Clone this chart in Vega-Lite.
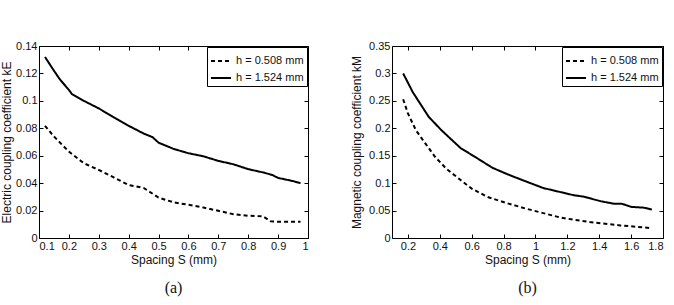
{
  "$schema": "https://vega.github.io/schema/vega-lite/v6.json",
  "padding": {"left": 0, "top": 39, "right": 2, "bottom": 0},
  "background": "white",
  "config": {
    "view": {"stroke": "black", "strokeWidth": 1},
    "font": "Liberation Sans",
    "axis": {
      "grid": false, "domain": false, "tickColor": "black", "tickSize": -4,
      "labelFont": "Liberation Sans", "labelFontSize": 11, "labelColor": "#111",
      "titleFont": "Liberation Sans", "titleFontSize": 12, "titleFontWeight": "normal", "titleColor": "#111"
    }
  },
  "datasets": {
    "a": [
      {"s": 0.12, "k": 0.132, "h": "h = 1.524 mm"},
      {"s": 0.15, "k": 0.122, "h": "h = 1.524 mm"},
      {"s": 0.17, "k": 0.1156, "h": "h = 1.524 mm"},
      {"s": 0.2, "k": 0.108, "h": "h = 1.524 mm"},
      {"s": 0.21, "k": 0.105, "h": "h = 1.524 mm"},
      {"s": 0.25, "k": 0.1, "h": "h = 1.524 mm"},
      {"s": 0.3, "k": 0.0945, "h": "h = 1.524 mm"},
      {"s": 0.35, "k": 0.088, "h": "h = 1.524 mm"},
      {"s": 0.4, "k": 0.0818, "h": "h = 1.524 mm"},
      {"s": 0.45, "k": 0.0762, "h": "h = 1.524 mm"},
      {"s": 0.48, "k": 0.0735, "h": "h = 1.524 mm"},
      {"s": 0.5, "k": 0.0695, "h": "h = 1.524 mm"},
      {"s": 0.55, "k": 0.065, "h": "h = 1.524 mm"},
      {"s": 0.6, "k": 0.0618, "h": "h = 1.524 mm"},
      {"s": 0.65, "k": 0.0596, "h": "h = 1.524 mm"},
      {"s": 0.7, "k": 0.0562, "h": "h = 1.524 mm"},
      {"s": 0.75, "k": 0.0538, "h": "h = 1.524 mm"},
      {"s": 0.8, "k": 0.0502, "h": "h = 1.524 mm"},
      {"s": 0.85, "k": 0.0478, "h": "h = 1.524 mm"},
      {"s": 0.88, "k": 0.046, "h": "h = 1.524 mm"},
      {"s": 0.9, "k": 0.0438, "h": "h = 1.524 mm"},
      {"s": 0.95, "k": 0.0415, "h": "h = 1.524 mm"},
      {"s": 0.975, "k": 0.04, "h": "h = 1.524 mm"},
      {"s": 0.12, "k": 0.0818, "h": "h = 0.508 mm"},
      {"s": 0.15, "k": 0.074, "h": "h = 0.508 mm"},
      {"s": 0.2, "k": 0.063, "h": "h = 0.508 mm"},
      {"s": 0.25, "k": 0.0545, "h": "h = 0.508 mm"},
      {"s": 0.3, "k": 0.0496, "h": "h = 0.508 mm"},
      {"s": 0.35, "k": 0.0442, "h": "h = 0.508 mm"},
      {"s": 0.4, "k": 0.0386, "h": "h = 0.508 mm"},
      {"s": 0.45, "k": 0.0365, "h": "h = 0.508 mm"},
      {"s": 0.5, "k": 0.0295, "h": "h = 0.508 mm"},
      {"s": 0.55, "k": 0.026, "h": "h = 0.508 mm"},
      {"s": 0.6, "k": 0.0242, "h": "h = 0.508 mm"},
      {"s": 0.65, "k": 0.0222, "h": "h = 0.508 mm"},
      {"s": 0.7, "k": 0.0198, "h": "h = 0.508 mm"},
      {"s": 0.75, "k": 0.0174, "h": "h = 0.508 mm"},
      {"s": 0.8, "k": 0.0162, "h": "h = 0.508 mm"},
      {"s": 0.85, "k": 0.0158, "h": "h = 0.508 mm"},
      {"s": 0.875, "k": 0.0122, "h": "h = 0.508 mm"},
      {"s": 0.9, "k": 0.0118, "h": "h = 0.508 mm"},
      {"s": 0.975, "k": 0.0118, "h": "h = 0.508 mm"}
    ],
    "b": [
      {"s": 0.17, "k": 0.3, "h": "h = 1.524 mm"},
      {"s": 0.23, "k": 0.266, "h": "h = 1.524 mm"},
      {"s": 0.33, "k": 0.221, "h": "h = 1.524 mm"},
      {"s": 0.41, "k": 0.1965, "h": "h = 1.524 mm"},
      {"s": 0.53, "k": 0.164, "h": "h = 1.524 mm"},
      {"s": 0.62, "k": 0.148, "h": "h = 1.524 mm"},
      {"s": 0.73, "k": 0.128, "h": "h = 1.524 mm"},
      {"s": 0.83, "k": 0.1155, "h": "h = 1.524 mm"},
      {"s": 0.95, "k": 0.102, "h": "h = 1.524 mm"},
      {"s": 1.05, "k": 0.091, "h": "h = 1.524 mm"},
      {"s": 1.24, "k": 0.078, "h": "h = 1.524 mm"},
      {"s": 1.3, "k": 0.0755, "h": "h = 1.524 mm"},
      {"s": 1.41, "k": 0.067, "h": "h = 1.524 mm"},
      {"s": 1.49, "k": 0.0626, "h": "h = 1.524 mm"},
      {"s": 1.54, "k": 0.0626, "h": "h = 1.524 mm"},
      {"s": 1.6, "k": 0.0568, "h": "h = 1.524 mm"},
      {"s": 1.68, "k": 0.0553, "h": "h = 1.524 mm"},
      {"s": 1.73, "k": 0.0518, "h": "h = 1.524 mm"},
      {"s": 0.17, "k": 0.253, "h": "h = 0.508 mm"},
      {"s": 0.2, "k": 0.227, "h": "h = 0.508 mm"},
      {"s": 0.25, "k": 0.1965, "h": "h = 0.508 mm"},
      {"s": 0.31, "k": 0.172, "h": "h = 0.508 mm"},
      {"s": 0.37, "k": 0.148, "h": "h = 0.508 mm"},
      {"s": 0.44, "k": 0.1265, "h": "h = 0.508 mm"},
      {"s": 0.52, "k": 0.108, "h": "h = 0.508 mm"},
      {"s": 0.6, "k": 0.09, "h": "h = 0.508 mm"},
      {"s": 0.7, "k": 0.0748, "h": "h = 0.508 mm"},
      {"s": 0.81, "k": 0.0645, "h": "h = 0.508 mm"},
      {"s": 0.94, "k": 0.0535, "h": "h = 0.508 mm"},
      {"s": 1.16, "k": 0.037, "h": "h = 0.508 mm"},
      {"s": 1.34, "k": 0.029, "h": "h = 0.508 mm"},
      {"s": 1.53, "k": 0.023, "h": "h = 0.508 mm"},
      {"s": 1.73, "k": 0.018, "h": "h = 0.508 mm"}
    ]
  },
  "resolve": {"scale": {"strokeDash": "independent"}, "legend": {"strokeDash": "independent"}},
  "spacing": 41,
  "hconcat": [
    {
      "width": 269, "height": 192,
      "data": {"name": "a"},
      "title": {"text": "(a)", "orient": "bottom", "font": "Liberation Serif", "fontSize": 16, "fontWeight": "normal", "color": "#111", "offset": 15},
      "layer": [
        {
          "mark": {"type": "line", "color": "black", "strokeWidth": 2},
          "encoding": {
            "x": {"field": "s", "type": "quantitative", "scale": {"domain": [0.1, 1], "nice": false, "zero": false},
                  "axis": {"title": "Spacing S (mm)", "values": [0.1,0.2,0.3,0.4,0.5,0.6,0.7,0.8,0.9,1], "format": "~g", "labelPadding": 6, "titlePadding": 3}},
            "y": {"field": "k", "type": "quantitative", "scale": {"domain": [0, 0.14], "nice": false},
                  "axis": {"title": "Electric coupling coefficient kE", "values": [0,0.02,0.04,0.06,0.08,0.1,0.12,0.14], "format": "~g", "labelPadding": 6, "titlePadding": 2}},
            "strokeDash": {"field": "h", "type": "nominal", "scale": {"domain": ["h = 0.508 mm", "h = 1.524 mm"], "range": [[4, 3], [1, 0]]},
                  "legend": {"title": null, "orient": "top-right", "offset": 1, "strokeColor": "black", "fillColor": "white", "padding": 3, "symbolType": "stroke", "symbolStrokeWidth": 2, "symbolSize": 400, "symbolStrokeColor": "black", "labelFont": "Liberation Sans", "labelFontSize": 11, "labelColor": "#111", "rowPadding": 1}}
          }
        },
        {
          "mark": {"type": "line", "opacity": 0},
          "encoding": {
            "x": {"field": "s", "type": "quantitative", "axis": {"orient": "top", "labels": false, "title": null, "values": [0.1,0.2,0.3,0.4,0.5,0.6,0.7,0.8,0.9,1]}},
            "y": {"field": "k", "type": "quantitative", "axis": {"orient": "right", "labels": false, "title": null, "values": [0,0.02,0.04,0.06,0.08,0.1,0.12,0.14]}},
            "detail": {"field": "h"}
          }
        }
      ],
      "resolve": {"axis": {"x": "independent", "y": "independent"}}
    },
    {
      "width": 271, "height": 192,
      "data": {"name": "b"},
      "title": {"text": "(b)", "orient": "bottom", "font": "Liberation Serif", "fontSize": 16, "fontWeight": "normal", "color": "#111", "offset": 15},
      "layer": [
        {
          "mark": {"type": "line", "color": "black", "strokeWidth": 2},
          "encoding": {
            "x": {"field": "s", "type": "quantitative", "scale": {"domain": [0.1, 1.8], "nice": false, "zero": false},
                  "axis": {"title": "Spacing S (mm)", "values": [0.2,0.4,0.6,0.8,1,1.2,1.4,1.6,1.8], "format": "~g", "labelPadding": 6, "titlePadding": 3}},
            "y": {"field": "k", "type": "quantitative", "scale": {"domain": [0, 0.35], "nice": false},
                  "axis": {"title": "Magnetic coupling coefficient kM", "values": [0,0.05,0.1,0.15,0.2,0.25,0.3,0.35], "format": "~g", "labelPadding": 6, "titlePadding": 5}},
            "strokeDash": {"field": "h", "type": "nominal", "scale": {"domain": ["h = 0.508 mm", "h = 1.524 mm"], "range": [[4, 3], [1, 0]]},
                  "legend": {"title": null, "orient": "top-right", "offset": 1, "strokeColor": "black", "fillColor": "white", "padding": 3, "symbolType": "stroke", "symbolStrokeWidth": 2, "symbolSize": 400, "symbolStrokeColor": "black", "labelFont": "Liberation Sans", "labelFontSize": 11, "labelColor": "#111", "rowPadding": 1}}
          }
        },
        {
          "mark": {"type": "line", "opacity": 0},
          "encoding": {
            "x": {"field": "s", "type": "quantitative", "axis": {"orient": "top", "labels": false, "title": null, "values": [0.2,0.4,0.6,0.8,1,1.2,1.4,1.6,1.8]}},
            "y": {"field": "k", "type": "quantitative", "axis": {"orient": "right", "labels": false, "title": null, "values": [0,0.05,0.1,0.15,0.2,0.25,0.3,0.35]}},
            "detail": {"field": "h"}
          }
        }
      ],
      "resolve": {"axis": {"x": "independent", "y": "independent"}}
    }
  ]
}
